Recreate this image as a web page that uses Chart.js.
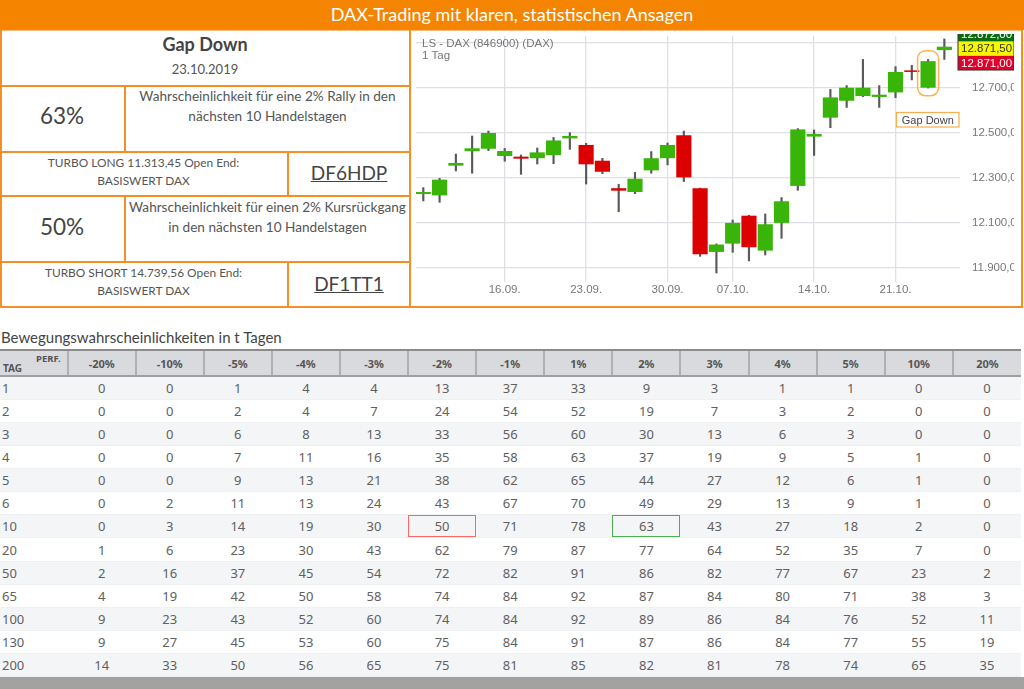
<!DOCTYPE html>
<html>
<head>
<meta charset="utf-8">
<title>DAX-Trading</title>
<script src="https://cdn.jsdelivr.net/npm/chart.js@4"></script>
<style>
html, body { margin: 0; padding: 0; background: #fff; }
body { width: 1024px; height: 689px; overflow: hidden; position: relative; font-family: Lato, sans-serif; color: #555; }
.abs { position: absolute; }
#head { left: 0; top: 0; width: 1024px; height: 30px; background: #f58400; color: #fff; font-size: 18px; line-height: 29px; text-align: center; }
.line { position: absolute; background: #f58f24; }
.cell { position: absolute; text-align: center; }
#chartWrap { position: absolute; left: 411px; top: 32px; width: 603px; height: 272px; }
#tblTitle { left: 1px; top: 328px; font-size: 15px; color: #444; }
#probTable { position: absolute; left: 0; top: 349px; width: 1021px; table-layout: fixed; border-collapse: collapse; font-family: "Noto Sans", sans-serif; font-size: 13px; color: #606060; }
#probTable th { height: 24px; padding: 0; background: #d9dade; border-top: 2px solid #8c8c8c; border-bottom: 2px solid #a0a0a0; border-left: 2px solid #b0b0b4; font-size: 11px; font-weight: 700; color: #555; position: relative; }
#probTable th:first-child { border-left: 0; }
#probTable td { height: 23.15px; padding: 0; text-align: center; box-sizing: border-box; border-bottom: 1px solid #eef0f2; }
#probTable td:first-child { text-align: left; padding-left: 2px; }
#probTable tr:nth-child(even) td { background: #f4f5f7; }
#probTable td.mark-red { box-shadow: inset 0 0 0 1px #f66; }
#probTable td.mark-green { box-shadow: inset 0 0 0 1px #4caf50; }
.perf { position: absolute; left: 36px; top: 1px; font-size: 9.5px; }
.tag { position: absolute; left: 3px; top: 10px; font-size: 10px; }
#foot { left: 0; top: 677px; width: 1024px; height: 12px; background: #a3a2a0; }
</style>
</head>
<body>
<div id="head" class="abs">DAX-Trading mit klaren, statistischen Ansagen</div>

<div class="line" style="left:0;top:30px;width:2px;height:277px"></div>
<div class="line" style="left:409px;top:30px;width:2px;height:277px"></div>
<div class="line" style="left:1021px;top:30px;width:2px;height:277px"></div>
<div class="line" style="left:0;top:30px;width:1023px;height:1px;opacity:.6"></div>
<div class="line" style="left:0;top:85px;width:410px;height:1.5px"></div>
<div class="line" style="left:0;top:151px;width:410px;height:1.5px"></div>
<div class="line" style="left:0;top:195px;width:410px;height:1.5px"></div>
<div class="line" style="left:0;top:261px;width:410px;height:1.5px"></div>
<div class="line" style="left:0;top:306px;width:1023px;height:1.5px"></div>
<div class="line" style="left:124px;top:85px;width:1.5px;height:66px"></div>
<div class="line" style="left:124px;top:195px;width:1.5px;height:66px"></div>
<div class="line" style="left:287px;top:151px;width:1.5px;height:44px"></div>
<div class="line" style="left:287px;top:261px;width:1.5px;height:45px"></div>

<div class="cell" style="left:0;top:33px;width:410px;font-size:18px;font-weight:700;color:#444">Gap Down</div>
<div class="cell" style="left:0;top:61px;width:410px;font-size:13px">23.10.2019</div>

<div class="cell" style="left:0;top:102px;width:124px;font-size:22.5px;color:#444">63%</div>
<div class="cell" style="left:125px;top:86px;width:285px;font-size:13.6px;line-height:20px">Wahrscheinlichkeit für eine 2% Rally in den<br>nächsten 10 Handelstagen</div>
<div class="cell" style="left:0;top:154px;width:287px;font-size:11.9px;line-height:17.5px">TURBO LONG 11.313,45 Open End:<br>BASISWERT DAX</div>
<div class="cell" style="left:288px;top:161px;width:122px;font-size:19px;text-decoration:underline;color:#444">DF6HDP</div>

<div class="cell" style="left:0;top:213px;width:124px;font-size:22.5px;color:#444">50%</div>
<div class="cell" style="left:125px;top:197px;width:285px;font-size:13.6px;line-height:20px;white-space:nowrap">Wahrscheinlichkeit für einen 2% Kursrückgang<br>in den nächsten 10 Handelstagen</div>
<div class="cell" style="left:0;top:264px;width:287px;font-size:11.9px;line-height:17.5px">TURBO SHORT 14.739,56 Open End:<br>BASISWERT DAX</div>
<div class="cell" style="left:288px;top:272px;width:122px;font-size:19px;text-decoration:underline;color:#444">DF1TT1</div>

<div id="chartWrap"><canvas id="candleChart" width="603" height="272"></canvas></div>

<div id="tblTitle" class="abs">Bewegungswahrscheinlichkeiten in t Tagen</div>
<table id="probTable"></table>
<div id="foot" class="abs"></div>

<script>
// --- Candle data ---
const dates = ['09.09.', '10.09.', '11.09.', '12.09.', '13.09.', '16.09.', '17.09.', '18.09.', '19.09.', '20.09.', '23.09.',
    '24.09.', '25.09.', '26.09.', '27.09.', '30.09.', '01.10.', '02.10.', '04.10.', '07.10.', '08.10.', '09.10.', '10.10.',
    '11.10.', '14.10.', '15.10.', '16.10.', '17.10.', '18.10.', '21.10.', '22.10.', '23.10.', '24.10.'];
const opens = [12228, 12222, 12354, 12418, 12429, 12397, 12391, 12387, 12401, 12475, 12443,
    12373, 12251, 12237, 12333, 12387, 12486, 12251, 11971, 12008, 12129, 11977, 12100,
    12264, 12483, 12567, 12642, 12663, 12659, 12679, 12774, 12700, 12867];
const closes = [12234, 12289, 12363, 12428, 12496, 12416, 12385, 12410, 12463, 12483, 12360,
    12327, 12243, 12293, 12384, 12443, 12302, 11961, 12001, 12097, 11992, 12091, 12193,
    12512, 12492, 12654, 12697, 12697, 12666, 12767, 12770, 12815, 12879];
const highs = [12255, 12296, 12404, 12484, 12506, 12429, 12400, 12431, 12478, 12499, 12452,
    12385, 12270, 12323, 12415, 12453, 12506, 12253, 12005, 12111, 12132, 12138, 12211,
    12517, 12511, 12691, 12708, 12824, 12708, 12792, 12798, 12824, 12915];
const lows = [12196, 12190, 12329, 12319, 12419, 12372, 12314, 12360, 12361, 12425, 12271,
    12317, 12148, 12228, 12319, 12356, 12282, 11950, 11876, 11968, 11930, 11956, 12030,
    12243, 12398, 12521, 12611, 12659, 12611, 12654, 12733, 12697, 12824];

const yTicks = [11900, 12100, 12300, 12500, 12700, 12900];
const yLabelTicks = [11900, 12100, 12300, 12500, 12700];
const xTickDates = ['16.09.', '23.09.', '30.09.', '07.10.', '14.10.', '21.10.'];
const quotes = [12872, 12871.5, 12871];

// --- Table data ---
const perfLabels = ['-20%', '-10%', '-5%', '-4%', '-3%', '-2%', '-1%', '1%', '2%', '3%', '4%', '5%', '10%', '20%'];
const tagLabels = [1, 2, 3, 4, 5, 6, 10, 20, 50, 65, 100, 130, 200];
const probRows = [
    [0, 0, 1, 4, 4, 13, 37, 33, 9, 3, 1, 1, 0, 0],
    [0, 0, 2, 4, 7, 24, 54, 52, 19, 7, 3, 2, 0, 0],
    [0, 0, 6, 8, 13, 33, 56, 60, 30, 13, 6, 3, 0, 0],
    [0, 0, 7, 11, 16, 35, 58, 63, 37, 19, 9, 5, 1, 0],
    [0, 0, 9, 13, 21, 38, 62, 65, 44, 27, 12, 6, 1, 0],
    [0, 2, 11, 13, 24, 43, 67, 70, 49, 29, 13, 9, 1, 0],
    [0, 3, 14, 19, 30, 50, 71, 78, 63, 43, 27, 18, 2, 0],
    [1, 6, 23, 30, 43, 62, 79, 87, 77, 64, 52, 35, 7, 0],
    [2, 16, 37, 45, 54, 72, 82, 91, 86, 82, 77, 67, 23, 2],
    [4, 19, 42, 50, 58, 74, 84, 92, 87, 84, 80, 71, 38, 3],
    [9, 23, 43, 52, 60, 74, 84, 92, 89, 86, 84, 76, 52, 11],
    [9, 27, 45, 53, 60, 75, 84, 91, 87, 86, 84, 77, 55, 19],
    [14, 33, 50, 56, 65, 75, 81, 85, 82, 81, 78, 74, 65, 35]
];

// --- Build the table ---
let html = '<colgroup><col style="width:67.6px">' + perfLabels.map(() => '<col style="width:68.1px">').join('') + '</colgroup>';
html += '<tr><th><span class="perf">PERF.</span><span class="tag">TAG</span></th>' + perfLabels.map(p => `<th>${p}</th>`).join('') + '</tr>';
probRows.forEach((row, r) => {
    html += `<tr><td>${tagLabels[r]}</td>`;
    row.forEach((v, c) => {
        let cls = '';
        if (tagLabels[r] === 10 && perfLabels[c] === '-2%') cls = ' class="mark-red"';
        if (tagLabels[r] === 10 && perfLabels[c] === '2%') cls = ' class="mark-green"';
        html += `<td${cls}>${v}</td>`;
    });
    html += '</tr>';
});
document.getElementById('probTable').innerHTML = html;

// --- Candle chart ---
const GREEN = '#38b508';
const RED = '#dc0000';
const deNum = v => v.toLocaleString('de-DE', { minimumFractionDigits: 2, maximumFractionDigits: 2 });

// annotations of the charting tool: header text, marker, quote badges
const overlayPlugin = {
    id: 'overlay',
    afterDraw(chart) {
        const { ctx, scales: { x, y } } = chart;
        ctx.save();

        ctx.fillStyle = '#777';
        ctx.font = '11.5px "Liberation Sans"';
        ctx.textAlign = 'left';
        ctx.textBaseline = 'middle';
        ctx.fillText('LS - DAX (846900) (DAX)', 11, 12);
        ctx.fillText('1 Tag', 11, 24);

        // rounded marker around the gap down candle
        const mx = x.getPixelForValue(dates.indexOf('23.10.'));
        ctx.strokeStyle = '#fbb255';
        ctx.lineWidth = 1.5;
        ctx.beginPath();
        ctx.roundRect(mx - 10.5, y.getPixelForValue(12863), 21, y.getPixelForValue(12663) - y.getPixelForValue(12863), 8);
        ctx.stroke();

        // label box
        ctx.strokeStyle = '#f9b04c';
        ctx.lineWidth = 1.2;
        ctx.strokeRect(485.5, 80.5, 62.5, 14.5);
        ctx.fillStyle = '#444';
        ctx.font = '11px "Liberation Sans"';
        ctx.textAlign = 'center';
        ctx.fillText('Gap Down', 516.8, 88.5);

        // quote badges, clipped by the top of the chart
        ctx.beginPath();
        ctx.rect(540, 2, 63, 80);
        ctx.clip();
        const badgeLeft = 547, badgeW = 56, badgeH = 14.2;
        const yc = y.getPixelForValue(quotes[1]);
        const styles = [['#0a6b12', '#fff', -1], ['#f7f700', '#333', 0], ['#e0002a', '#fff', 1]];
        ctx.font = '11.5px "Liberation Sans"';
        ctx.textAlign = 'left';
        styles.forEach((s, i) => {
            const cy = yc + s[2] * badgeH;
            ctx.fillStyle = s[0];
            ctx.fillRect(badgeLeft, cy - badgeH / 2, badgeW, badgeH);
            ctx.fillStyle = s[1];
            ctx.fillText(deNum(quotes[i]), badgeLeft + 3, cy + 0.5);
        });
        ctx.strokeStyle = '#333';
        ctx.lineWidth = 1;
        ctx.strokeRect(badgeLeft, yc - badgeH * 1.5, badgeW, badgeH * 3);
        ctx.restore();
    }
};

const candleChart = new Chart(document.getElementById('candleChart').getContext('2d'), {
    type: 'bar',
    data: {
        datasets: [
            {
                label: 'Body',
                data: dates.map((d, i) => ({ x: i, y: [opens[i], closes[i]] })),
                backgroundColor: dates.map((d, i) => closes[i] >= opens[i] ? GREEN : RED),
                barThickness: 14.5,
                grouped: false,
                order: 1
            },
            {
                label: 'Wick',
                data: dates.map((d, i) => ({ x: i, y: [lows[i], highs[i]] })),
                backgroundColor: '#5a5a5a',
                barThickness: 1.5,
                grouped: false,
                order: 2
            }
        ]
    },
    options: {
        responsive: false,
        animation: false,
        layout: { autoPadding: false, padding: { left: 5, top: 4, right: 0, bottom: 0 } },
        plugins: { legend: { display: false }, tooltip: { enabled: false } },
        scales: {
            x: {
                type: 'linear',
                offset: false,
                min: -0.448,
                max: 32.96,
                border: { display: false },
                grid: { color: '#dfdfe6', lineWidth: 1.3, tickLength: 2, offset: false },
                afterBuildTicks(axis) { axis.ticks = xTickDates.map(d => ({ value: dates.indexOf(d) })); },
                afterFit(axis) { axis.height = 24; axis.paddingLeft = 0; axis.paddingRight = 0; },
                ticks: {
                    autoSkip: false,
                    maxRotation: 0,
                    padding: 1,
                    color: '#777',
                    font: { family: '"Liberation Sans"', size: 11.5 },
                    callback: v => dates[v]
                }
            },
            y: {
                position: 'right',
                min: 11845,
                max: 12928,
                border: { display: false },
                grid: { color: '#dfdfe6', lineWidth: 1.3, drawTicks: false },
                afterBuildTicks(axis) { axis.ticks = yTicks.map(v => ({ value: v })); },
                afterFit(axis) { axis.width = 54; axis.paddingTop = 0; axis.paddingBottom = 0; },
                ticks: {
                    autoSkip: false,
                    padding: 12,
                    color: '#777',
                    font: { family: '"Liberation Sans"', size: 11.5 },
                    callback: v => yLabelTicks.includes(v) ? deNum(v) : ''
                }
            }
        }
    },
    plugins: [overlayPlugin]
});
</script>
</body>
</html>
